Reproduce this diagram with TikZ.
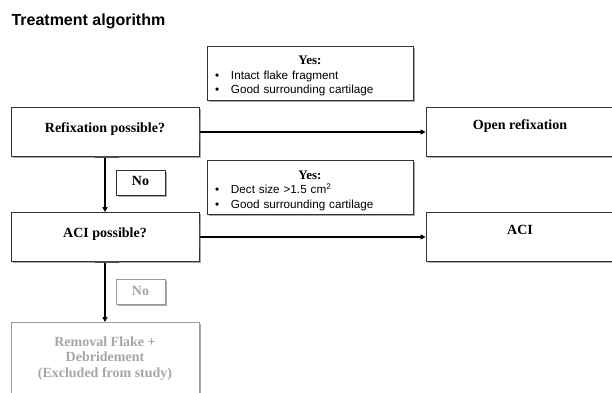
\documentclass[tikz,border=0pt]{standalone}
\usepackage{fontspec}
\setmainfont{Liberation Serif}
\newfontfamily\arialfont{Liberation Sans}
\usetikzlibrary{arrows.meta,shadows}
\definecolor{fadegray}{HTML}{A6A6A6}
\definecolor{fadeline}{HTML}{9A9A9A}
\begin{document}
\begin{tikzpicture}[x=1pt,y=-1pt,
  shadowed/.style={drop shadow={shadow xshift=1.6pt,shadow yshift=-1.6pt,fill=black!45,opacity=0.75}},
  box/.style={shadowed,draw=black!80,line width=0.8pt,fill=white,inner sep=0pt,
    font=\fontsize{14}{15.5}\selectfont\bfseries},
  leftbox/.style={box,minimum width=188pt,minimum height=49pt,text height=10pt,text depth=10pt},
  rightbox/.style={box,minimum width=188pt,minimum height=49pt,text height=10pt,text depth=15pt},
  nobox/.style={box,minimum width=49pt,minimum height=25pt,text height=9pt,text depth=3pt},
  fadebox/.style={draw=fadeline,text=fadegray},
  yesbox/.style={shadowed,draw=black!80,line width=0.8pt,fill=white,inner xsep=8pt,inner ysep=3pt,
    text width=190pt,minimum height=54pt,align=left,
    font=\arialfont\fontsize{11.7}{14.5}\selectfont},
  flow/.style={line width=2pt,-{Triangle[length=5pt,width=5pt]}},
  tick/.style={black!70,line width=1.3pt}
]
\useasboundingbox (0,0) rectangle (612,392);
\clip (0,0) rectangle (612,392);

\node[anchor=base west,font=\arialfont\fontsize{16}{18}\selectfont\bfseries] (title) at (8,25) {Treatment algorithm};

\node[leftbox] (refix) at (105,132) {Refixation possible?};
\node[leftbox] (acip) at (105,237) {ACI possible?};
\node[box,fadebox,minimum width=188pt,minimum height=72pt,align=center,anchor=north] (removal) at (105,322)
  {Removal Flake +\\Debridement\\(Excluded from study)};

\node[rightbox] (open) at (520,132) {Open refixation};
\node[rightbox] (aci) at (520,237) {ACI};

\node[nobox] (no1) at (140.5,182.5) {No};
\node[nobox,fadebox] (no2) at (140.5,292) {No};

\node[yesbox] (yes1) at (310,73)
  {\makebox[\linewidth][c]{\rule{0pt}{15pt}\fontsize{13}{14.5}\selectfont\rmfamily\bfseries Yes:}\\
   \makebox[16pt][l]{•}Intact flake fragment\\
   \makebox[16pt][l]{•}Good surrounding cartilage};
\node[yesbox] (yes2) at (310,187.5)
  {\makebox[\linewidth][c]{\rule{0pt}{15pt}\fontsize{13}{14.5}\selectfont\rmfamily\bfseries Yes:}\\
   \makebox[16pt][l]{•}Dect size >1.5 cm\textsuperscript{2}\\
   \makebox[16pt][l]{•}Good surrounding cartilage};

\draw[flow] (refix.east) -- (open.west);
\draw[flow] (acip.east) -- (aci.west);
\draw[flow] (refix.south) -- (acip.north);
\draw[flow] (acip.south) -- (removal.north);

\draw[tick] ([xshift=-10pt]refix.south) -- ([xshift=14pt]refix.south);
\draw[tick] ([xshift=-10pt]acip.south) -- ([xshift=14pt]acip.south);
\draw[tick] ([yshift=-10pt]refix.east) -- ([yshift=14pt]refix.east);
\draw[tick] ([yshift=-10pt]acip.east) -- ([yshift=14pt]acip.east);
\end{tikzpicture}
\end{document}
